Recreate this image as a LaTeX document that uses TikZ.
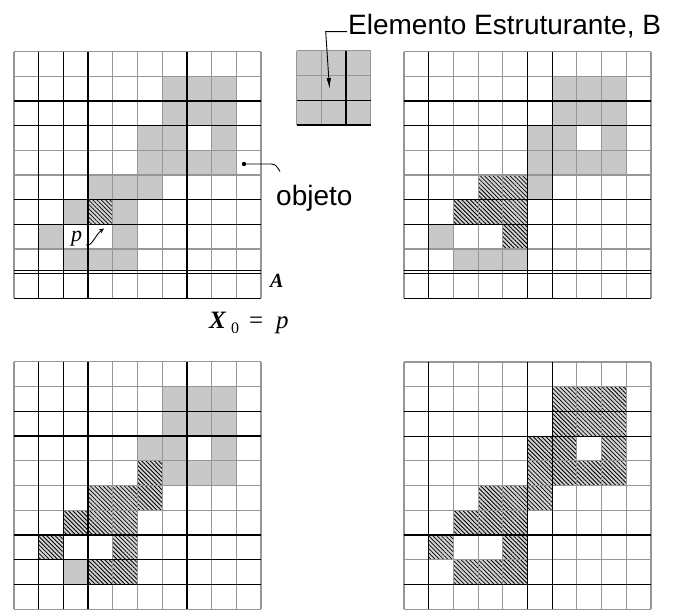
\documentclass[tikz,border=0pt]{standalone}
\usepackage{fontspec}
\setmainfont{Liberation Sans}
\newfontfamily\tms{Liberation Serif}
\usetikzlibrary{patterns.meta,arrows.meta}
\definecolor{cellgray}{RGB}{200,200,200}
\definecolor{linegray}{RGB}{150,150,150}
\definecolor{hatchbg}{RGB}{210,210,210}
\tikzset{
  gline/.style={draw=linegray, line width=1.1pt},
  bline/.style={draw=black, line width=1.3pt},
  gfill/.style={fill=cellgray},
  hfill/.style={pattern={Lines[angle=-45,distance=3pt,line width=0.8pt]}, pattern color=black},
  lbl/.style={inner sep=0pt, anchor=base west},
}
\newcommand\gc[3][1]{\fill[gfill] (#2,#3) rectangle ++(1,#1);}
\newcommand\hc[3][1]{\fill[hatchbg] (#2,#3) rectangle ++(1,#1);\fill[hfill] (#2,#3) rectangle ++(1,#1);}
\begin{document}
\begin{tikzpicture}[x=1pt,y=-1pt]
\useasboundingbox[fill=white] (0,0) rectangle (676,612);

% ---------- top-left grid (A with p) ----------
\begin{scope}[xshift=14pt,yshift=-51.7pt,x=24.7pt,y=-24.66pt]
  \foreach \c/\r in {6/1,7/1,8/1,6/2,7/2,8/2,5/3,6/3,8/3,5/4,6/4,7/4,8/4,3/5,4/5,5/5,2/6,4/6,1/7,4/7} {\gc{\c}{\r}}
  \foreach \c in {2,3,4} {\gc[0.86]{\c}{8}}
  \hc{3}{6}
  \foreach \i in {0,...,10} \draw[gline] (\i,0) -- (\i,10);
  \foreach \j in {0,...,8} \draw[gline] (0,\j) -- (10,\j);
  \foreach \i in {1,2,3,7} \draw[bline] (\i,0) -- (\i,10);
  \foreach \j in {2,3,6,7,8.86,9,10} \draw[bline] (0,\j) -- (10,\j);
\end{scope}

% ---------- top-right grid ----------
\begin{scope}[xshift=404pt,yshift=-51.7pt,x=24.7pt,y=-24.66pt]
  \foreach \c/\r in {6/1,7/1,8/1,6/2,7/2,8/2,5/3,6/3,8/3,5/4,6/4,7/4,8/4,5/5,1/7} {\gc{\c}{\r}}
  \foreach \c in {2,3,4} {\gc[0.86]{\c}{8}}
  \foreach \c/\r in {3/5,4/5,2/6,3/6,4/6,4/7} {\hc{\c}{\r}}
  \foreach \i in {0,...,10} \draw[gline] (\i,0) -- (\i,10);
  \foreach \j in {0,...,8} \draw[gline] (0,\j) -- (10,\j);
  \foreach \i in {1,5,6} \draw[bline] (\i,0) -- (\i,10);
  \foreach \j in {2,3,6,7,8.86,9,10} \draw[bline] (0,\j) -- (10,\j);
\end{scope}

% ---------- bottom-left grid ----------
\begin{scope}[xshift=14pt,yshift=-361.7pt,x=24.7pt,y=-24.76pt]
  \foreach \c/\r in {6/1,7/1,8/1,6/2,7/2,8/2,5/3,6/3,8/3,6/4,7/4,8/4,2/8} {\gc{\c}{\r}}
  \foreach \c/\r in {5/4,3/5,4/5,5/5,2/6,3/6,4/6,1/7,4/7,3/8,4/8} {\hc{\c}{\r}}
  \foreach \i in {0,...,10} \draw[gline] (\i,0) -- (\i,10);
  \foreach \j in {0,...,10} \draw[gline] (0,\j) -- (10,\j);
  \foreach \i in {1,2,3,7} \draw[bline] (\i,0) -- (\i,10);
  \foreach \j in {2,3,7,8,9} \draw[bline] (0,\j) -- (10,\j);
\end{scope}

% ---------- bottom-right grid ----------
\begin{scope}[xshift=404pt,yshift=-362pt,x=24.7pt,y=-24.73pt]
  \foreach \c/\r in {6/1,7/1,8/1,6/2,7/2,8/2,5/3,6/3,8/3,5/4,6/4,7/4,8/4,3/5,4/5,5/5,2/6,3/6,4/6,1/7,4/7,2/8,3/8,4/8} {\hc{\c}{\r}}
  \foreach \i in {0,...,10} \draw[gline] (\i,0) -- (\i,10);
  \foreach \j in {0,...,10} \draw[gline] (0,\j) -- (10,\j);
  \foreach \i in {1,5,6} \draw[bline] (\i,0) -- (\i,10);
  \foreach \j in {2,3,7,9} \draw[bline] (0,\j) -- (10,\j);
\end{scope}

% ---------- structuring element B ----------
\begin{scope}[xshift=296.7pt,yshift=-50.7pt,x=24.7pt,y=-24.8pt]
  \fill[gfill] (0,0) rectangle (3,3);
  \foreach \i in {0,...,3} \draw[gline] (\i,0) -- (\i,3);
  \foreach \j in {0,...,3} \draw[gline] (0,\j) -- (3,\j);
  \draw[bline] (2,0) -- (2,3);
  \foreach \j in {2,3} \draw[bline] (0,\j) -- (3,\j);
\end{scope}

% ---------- labels ----------
\node[lbl] (elabel) at (348,35) {\fontsize{28}{32}\selectfont Elemento Estruturante, B};
\coordinate (estart) at (347,31.7);
\coordinate (ecorner) at (325.7,31.7);
\coordinate (etip) at (329.5,89);
\draw[line width=0.9pt,-{Latex[length=11pt,width=4.5pt]}] (estart) -- (ecorner) -- (etip);

\node[lbl] (objeto) at (276,206) {\fontsize{28}{32}\selectfont objeto};
\coordinate (odot) at (244,164);
\coordinate (omid) at (271,164);
\coordinate (oend) at (280,171.5);
\fill (odot) circle (2.2);
\draw[line width=0.9pt] (odot) -- (omid) .. controls (276,164) and (277,167) .. (oend);

\node[lbl] (alabel) at (270,287) {\fontsize{20}{22}\selectfont\tms\itshape\bfseries A};
\node[lbl] (xlabel) at (209,328.3) {\fontsize{25}{28}\selectfont\tms\itshape\bfseries X};
\node[lbl] (xsub) at (231,333) {\fontsize{16}{17}\selectfont\tms 0};
\node[lbl] (xeq) at (249,328.3) {\fontsize{25}{28}\selectfont\tms =};
\node[lbl] (xp) at (276,328.3) {\fontsize{25}{28}\selectfont\tms\itshape p};

\node[lbl] (plabel) at (71,241) {\fontsize{22}{24}\selectfont\tms\itshape p};
\coordinate (pstart) at (86,245);
\coordinate (ptip) at (104,228.5);
\draw[line width=0.9pt,-{Stealth[length=5pt,width=4.5pt]}] (pstart) .. controls (92,247) and (95,235) .. (ptip);
\end{tikzpicture}
\end{document}
